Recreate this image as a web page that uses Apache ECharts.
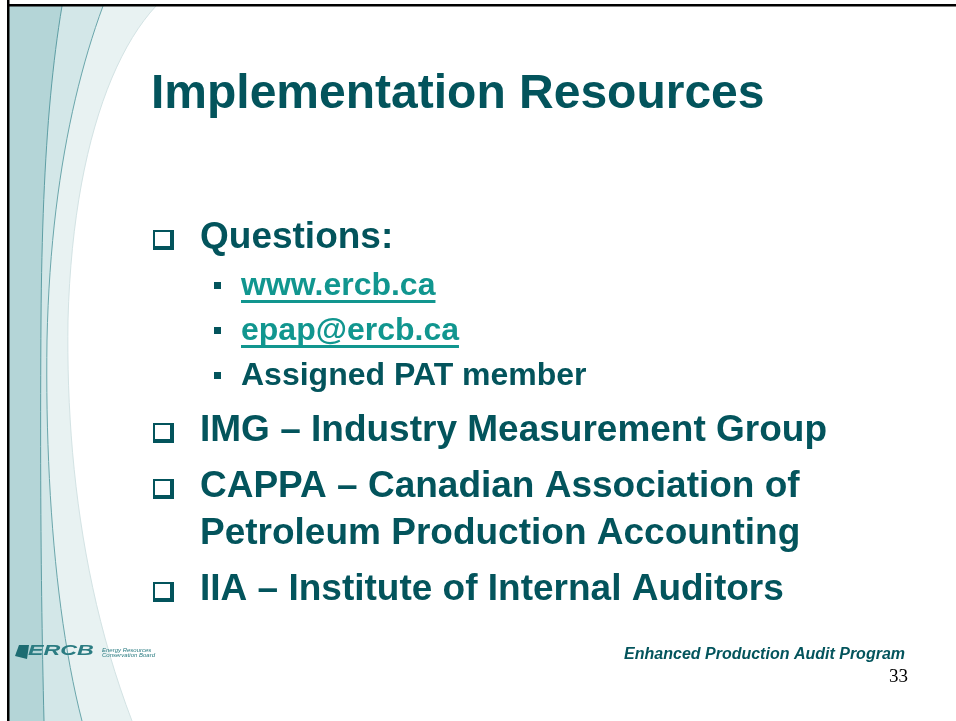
<!DOCTYPE html>
<html>
<head>
<meta charset="utf-8">
<title>Implementation Resources</title>
<script src="https://cdn.jsdelivr.net/npm/echarts@6/dist/echarts.min.js"></script>
<style>
  html, body { margin: 0; padding: 0; background: #fff; }
  #slide { width: 956px; height: 721px; }
</style>
</head>
<body>
<div id="slide"></div>
<script>
// slide texts
var slideTitle = 'Implementation Resources';
var mainItems = [
  ['Questions:'],
  ['IMG – Industry Measurement Group'],
  ['CAPPA – Canadian Association of', 'Petroleum Production Accounting'],
  ['IIA – Institute of Internal Auditors']
];
var subItems = ['www.ercb.ca', 'epap@ercb.ca', 'Assigned PAT member'];
var subIsLink = [true, true, false];
var footerText = 'Enhanced Production Audit Program';
var pageNumber = '33';
var logoName = 'ERCB';
var logoLines = ['Energy Resources', 'Conservation Board'];

var DARK = '#03545c';
var LINK = '#11968f';
var SANS = '"Liberation Sans", Arial, sans-serif';

var measureCtx = document.createElement('canvas').getContext('2d');
function textWidth(str, font) {
  measureCtx.font = font;
  return measureCtx.measureText(str).width;
}

// baseline -> y for middle aligned text
function midY(baseline, size) {
  return baseline - 0.34 * size;
}

// sample a chain of cubic segments into points
function curvePoints(start, segs) {
  var pts = [start];
  var p0 = start;
  segs.forEach(function (s) {
    for (var i = 1; i <= 24; i++) {
      var t = i / 24, u = 1 - t;
      pts.push([
        u * u * u * p0[0] + 3 * u * u * t * s[0][0] + 3 * u * t * t * s[1][0] + t * t * t * s[2][0],
        u * u * u * p0[1] + 3 * u * u * t * s[0][1] + 3 * u * t * t * s[1][1] + t * t * t * s[2][1]
      ]);
    }
    p0 = s[2];
  });
  return pts;
}

var elements = [];

function swoosh(start, segs, fill, stroke) {
  var edge = curvePoints(start, segs);
  elements.push({
    type: 'polygon', silent: true,
    shape: { points: [[9, 6]].concat(edge).concat([[9, 721]]) },
    style: { fill: fill }
  });
  elements.push({
    type: 'polyline', silent: true,
    shape: { points: edge },
    style: { fill: null, stroke: stroke, lineWidth: 1 }
  });
}

// left decoration
swoosh([156, 6], [[[106, 60], [72, 170], [68, 320]], [[66, 450], [82, 590], [132, 721]]], '#e8f2f2', '#d3e3e4');
swoosh([103, 6], [[[72, 90], [50, 200], [47, 340]], [[45, 480], [56, 620], [82, 721]]], '#d3e7e8', '#6aa6ab');
swoosh([62, 6], [[[48, 90], [42, 190], [41, 320]], [[40, 470], [41, 600], [44, 721]]], '#b4d5d7', '#5e9ea4');

// frame (left + top)
elements.push({ type: 'rect', silent: true, shape: { x: 7, y: 0, width: 2.5, height: 721 }, style: { fill: '#000' } });
elements.push({ type: 'rect', silent: true, shape: { x: 7, y: 4, width: 949, height: 2.5 }, style: { fill: '#000' } });

// title
elements.push({
  type: 'text', silent: true,
  style: {
    text: slideTitle, x: 151, y: midY(111, 48),
    fontSize: 48, fontWeight: 'bold', fontFamily: SANS,
    fill: DARK, textVerticalAlign: 'middle'
  }
});

// bullets
var mainSize = 37, subSize = 32;
var lineGap = 47, paraGap = 56, subGap = 45;
var baseline = 250;

function checkbox(b) {
  elements.push({ type: 'rect', silent: true, shape: { x: 153, y: b - 20, width: 21, height: 20 }, style: { fill: DARK } });
  elements.push({ type: 'rect', silent: true, shape: { x: 155, y: b - 18, width: 15, height: 14 }, style: { fill: '#fff' } });
}

mainItems.forEach(function (lines, i) {
  checkbox(baseline);
  lines.forEach(function (line, j) {
    elements.push({
      type: 'text', silent: true,
      style: {
        text: line, x: 200, y: midY(baseline, mainSize),
        fontSize: mainSize, fontWeight: 'bold', fontFamily: SANS,
        fill: DARK, textVerticalAlign: 'middle'
      }
    });
    if (j < lines.length - 1) baseline += lineGap;
  });
  if (i === 0) {
    baseline += lineGap;
    subItems.forEach(function (s, k) {
      elements.push({ type: 'rect', silent: true, shape: { x: 214, y: baseline - 15, width: 7, height: 7 }, style: { fill: DARK } });
      elements.push({
        type: 'text', silent: true,
        style: {
          text: s, x: 241, y: midY(baseline, subSize),
          fontSize: subSize, fontWeight: 'bold', fontFamily: SANS,
          fill: subIsLink[k] ? LINK : DARK, textVerticalAlign: 'middle'
        }
      });
      if (subIsLink[k]) {
        var w = textWidth(s, 'bold ' + subSize + 'px ' + SANS);
        elements.push({ type: 'rect', silent: true, shape: { x: 241, y: baseline + 3, width: w, height: 3 }, style: { fill: LINK } });
      }
      if (k < subItems.length - 1) baseline += subGap;
    });
  }
  baseline += paraGap;
});

// logo
elements.push({
  type: 'polygon', silent: true,
  shape: { points: [[19, 645], [29, 645], [27, 659], [15, 656]] },
  style: { fill: '#1d6c72' }
});
elements.push({
  type: 'text', silent: true, x: 28, y: 659, scaleX: 1.5,
  style: {
    text: logoName, x: 0, y: 0,
    fontSize: 15.5, fontWeight: 'bold', fontStyle: 'italic', fontFamily: SANS,
    fill: '#2b7c82', textVerticalAlign: 'bottom'
  }
});
logoLines.forEach(function (t, i) {
  elements.push({
    type: 'text', silent: true,
    style: {
      text: t, x: 102, y: 647 + i * 5.5,
      fontSize: 6, fontStyle: 'italic', fontFamily: SANS,
      fill: '#2b7c82', textVerticalAlign: 'top'
    }
  });
});

// footer
elements.push({
  type: 'text', silent: true,
  style: {
    text: footerText, x: 905, y: midY(660, 16),
    fontSize: 16, fontWeight: 'bold', fontStyle: 'italic', fontFamily: SANS,
    fill: DARK, textAlign: 'right', textVerticalAlign: 'middle'
  }
});
elements.push({
  type: 'text', silent: true,
  style: {
    text: pageNumber, x: 908, y: midY(683, 19),
    fontSize: 19, fontFamily: '"Liberation Serif", "Times New Roman", serif',
    fill: '#000', textAlign: 'right', textVerticalAlign: 'middle'
  }
});

var chart = echarts.init(document.getElementById('slide'));
chart.setOption({
  animation: false,
  backgroundColor: '#fff',
  graphic: { elements: elements }
});
</script>
</body>
</html>
